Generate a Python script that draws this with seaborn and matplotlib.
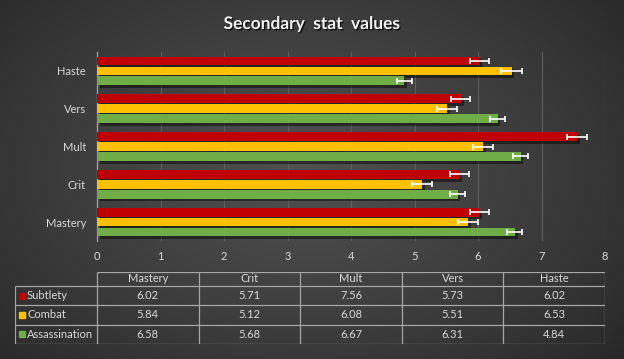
import numpy as np
import pandas as pd
import matplotlib
matplotlib.use("Agg")
import matplotlib.pyplot as plt
import matplotlib.patheffects as pe
import seaborn as sns

categories = ["Mastery", "Crit", "Mult", "Vers", "Haste"]
series = ["Subtlety", "Combat", "Assassination"]
subtlety = [6.02, 5.71, 7.56, 5.73, 6.02]
combat = [5.84, 5.12, 6.08, 5.51, 6.53]
assassination = [6.58, 5.68, 6.67, 6.31, 4.84]
subtlety_err = [0.15, 0.15, 0.16, 0.15, 0.15]
combat_err = [0.16, 0.16, 0.16, 0.16, 0.16]
assassination_err = [0.12, 0.12, 0.12, 0.12, 0.12]
colors = ["#C00000", "#FFC000", "#70AD47"]

values = [subtlety, combat, assassination]
errors = [subtlety_err, combat_err, assassination_err]

df = pd.DataFrame({
    "stat": categories * 3,
    "spec": np.repeat(series, len(categories)),
    "value": subtlety + combat + assassination,
})

sns.set_theme(style="dark")
plt.rcParams["font.family"] = ["Lato", "DejaVu Sans"]
text_col = "#d9d9d9"
line_col = "#a6a6a6"

fig = plt.figure(figsize=(6.24, 3.59), dpi=100)

# radial gradient background
bg = fig.add_axes([0, 0, 1, 1], zorder=-10)
yy, xx = np.mgrid[0:359, 0:624]
r = np.sqrt(((xx - 300) / 430.0) ** 2 + ((yy - 170) / 290.0) ** 2)
v = np.clip(1 - r, 0, 1) ** 0.8
shade = (0x26 + (0x50 - 0x26) * v) / 255.0
bg.imshow(np.dstack([shade, shade, shade]), aspect="auto", extent=[0, 1, 0, 1])
bg.axis("off")

ax = fig.add_axes([97 / 624, 1 - 241 / 359, 508 / 624, 189 / 359])
ax.patch.set_alpha(0)
order = categories[::-1]
sns.barplot(data=df, y="stat", x="value", hue="spec", order=order, hue_order=series,
            palette=colors, orient="h", width=0.79, gap=0.12, errorbar=None,
            saturation=1, legend=False, ax=ax, zorder=3, linewidth=0, edgecolor="none")

bar_groups = list(ax.containers)
for i, cont in enumerate(bar_groups):
    for bar in cont:
        bar.set_path_effects([pe.SimplePatchShadow(offset=(2, -2), shadow_rgbFace="black", alpha=0.45),
                              pe.Normal()])
        cy = bar.get_y() + bar.get_height() / 2
        cat = order[int(round(cy))]
        err = errors[i][categories.index(cat)]
        ax.errorbar(bar.get_width(), cy, xerr=err, fmt="none", ecolor="white",
                    elinewidth=1.2, capsize=2.5, capthick=1.2, zorder=5)

ax.set_xlim(0, 8)
ax.set_ylim(4.5, -0.5)
ax.set_xticks(range(0, 9))
ax.xaxis.grid(True, color="#606060", lw=0.8)
ax.yaxis.grid(False)
for s in ["top", "right", "bottom"]:
    ax.spines[s].set_visible(False)
ax.spines["left"].set_color(line_col)
ax.spines["left"].set_linewidth(0.9)
ax.set_yticks(np.arange(-0.5, 5, 1), minor=True)
ax.tick_params(axis="x", length=0, labelcolor=text_col, labelsize=8, pad=7)
ax.tick_params(axis="y", which="major", length=0, labelcolor=text_col, labelsize=8, pad=8)
ax.tick_params(axis="y", which="minor", length=3, color=line_col, width=0.9, direction="out")
ax.set_xlabel("")
ax.set_ylabel("")

fig.text(0.5, 1 - 29 / 359, "Secondary  stat  values", ha="center", va="baseline",
         fontsize=12.5, fontweight="bold", color="#f2f2f2",
         path_effects=[pe.withSimplePatchShadow(offset=(1, -1), shadow_rgbFace="black", alpha=0.7)])

# data table
tax = fig.add_axes([15 / 624, 1 - 344 / 359, 590 / 624, 72 / 359])
tax.set_xlim(15, 605)
tax.set_ylim(344, 272)
tax.axis("off")
col_x = [97 + k * (605 - 97) / 5 for k in range(6)]
row_y = [272, 286, 305.3, 324.7, 344]
lw = 0.9
tax.hlines(row_y[0], col_x[0], col_x[-1], color=line_col, lw=lw)
tax.hlines(row_y[1:], 15, col_x[-1], color=line_col, lw=lw)
tax.vlines([15], row_y[1], row_y[-1], color=line_col, lw=lw)
tax.vlines(col_x, row_y[0], row_y[-1], color=line_col, lw=lw)
fs = 8
for j, cat in enumerate(categories):
    cx = (col_x[j] + col_x[j + 1]) / 2
    tax.text(cx, (row_y[0] + row_y[1]) / 2, cat, ha="center", va="center", fontsize=fs, color=text_col)
    for i in range(len(series)):
        tax.text(cx, (row_y[i + 1] + row_y[i + 2]) / 2, f"{values[i][j]:.2f}", ha="center",
                 va="center", fontsize=fs, color=text_col)
for i, name in enumerate(series):
    cy = (row_y[i + 1] + row_y[i + 2]) / 2
    tax.plot(21.5, cy, marker="s", markersize=4.5, color=colors[i], clip_on=False)
    tax.text(27, cy, name, ha="left", va="center", fontsize=fs, color=text_col)

fig.savefig("out.png", dpi=100)
